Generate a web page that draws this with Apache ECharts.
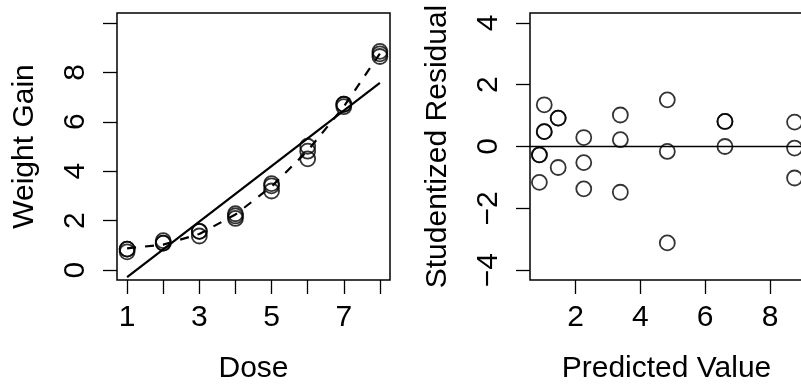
<!DOCTYPE html>
<html lang="en">
<head>
    <meta charset="UTF-8">
    <title>Weight gain vs dose</title>
    <style>
        html, body { margin: 0; padding: 0; background: #fff; }
        #main { width: 801px; height: 384px; }
    </style>
    <script src="https://cdn.jsdelivr.net/npm/echarts@6/dist/echarts.min.js"></script>
</head>
<body>
<div id="main"></div>
<script>
    // observed data: 3 animals per dose
    var dose = [1, 1, 1, 2, 2, 2, 3, 3, 3, 4, 4, 4, 5, 5, 5, 6, 6, 6, 7, 7, 7, 8, 8, 8];
    var gain = [0.85, 0.85, 0.74, 1.19, 1.09, 1.09, 1.57, 1.57, 1.38, 2.28, 2.19, 2.09,
                3.50, 3.41, 3.20, 5.01, 4.81, 4.50, 6.71, 6.71, 6.61, 8.85, 8.75, 8.64];
    // quadratic fit, one value per dose (1..8)
    var doseLevels = [1, 2, 3, 4, 5, 6, 7, 8];
    var fitted = [0.88, 1.03, 1.46, 2.25, 3.38, 4.83, 6.61, 8.76];
    // studentized residuals, same order as gain
    var stuRes = [-0.27, -0.27, -1.16, 1.35, 0.48, 0.48, 0.92, 0.92, -0.68, 0.29, -0.52, -1.37,
                  1.02, 0.22, -1.48, 1.51, -0.16, -3.12, 0.81, 0.81, 0.00, 0.79, -0.05, -1.02];

    // tick / label values
    var doseTicks = [1, 2, 3, 4, 5, 6, 7, 8];
    var doseLabels = [1, 3, 5, 7];
    var gainTicks = [0, 2, 4, 6, 8, 10];
    var gainLabels = [0, 2, 4, 6, 8];
    var predTicks = [2, 4, 6, 8];
    var resTicks = [-4, -2, 0, 2, 4];

    // straight-line fit of gain on dose (least squares)
    var n = dose.length, mx = 0, my = 0;
    for (var i = 0; i < n; i++) { mx += dose[i]; my += gain[i]; }
    mx /= n; my /= n;
    var sxy = 0, sxx = 0;
    for (var i = 0; i < n; i++) {
        sxy += (dose[i] - mx) * (gain[i] - my);
        sxx += (dose[i] - mx) * (dose[i] - mx);
    }
    var slope = sxy / sxx, icpt = my - slope * mx;
    var linFit = [[1, icpt + slope], [8, icpt + 8 * slope]];

    var leftPts = [], rightPts = [], quadLine = [];
    for (var i = 0; i < n; i++) {
        leftPts.push([dose[i], gain[i]]);
        rightPts.push([fitted[dose[i] - 1], stuRes[i]]);
    }
    for (var j = 0; j < doseLevels.length; j++) quadLine.push([doseLevels[j], fitted[j]]);

    var FONT = "'Liberation Sans', Arial, Helvetica, sans-serif";
    var FS = 30;
    var minus = function (v) { return v < 0 ? '\u2212' + Math.abs(v) : String(v); };

    function xAx(idx, min, max, ticks, labels, name) {
        return {
            type: 'value', gridIndex: idx, min: min, max: max,
            splitLine: {show: false},
            axisLine: {show: false, onZero: false},
            axisTick: {show: true, length: 14, customValues: ticks, lineStyle: {color: '#000', width: 1.3}},
            axisLabel: {customValues: labels, margin: 23, color: '#000', fontSize: FS, fontFamily: FONT},
            name: name, nameLocation: 'middle', nameGap: 74,
            nameTextStyle: {color: '#000', fontSize: FS, fontFamily: FONT}
        };
    }
    function yAx(idx, min, max, ticks, labels, name) {
        return {
            type: 'value', gridIndex: idx, min: min, max: max,
            splitLine: {show: false},
            axisLine: {show: false, onZero: false},
            axisTick: {show: true, length: 14, customValues: ticks, lineStyle: {color: '#000', width: 1.3}},
            axisLabel: {customValues: labels, rotate: 90, margin: 26, color: '#000', fontSize: FS,
                        fontFamily: FONT, formatter: minus},
            name: name, nameLocation: 'middle', nameGap: 77,
            nameTextStyle: {color: '#000', fontSize: FS, fontFamily: FONT}
        };
    }

    var circle = {color: 'rgba(0,0,0,0)', borderColor: '#000', borderWidth: 1.8};

    var chart = echarts.init(document.getElementById('main'));
    chart.setOption({
        animation: false,
        backgroundColor: '#fff',
        grid: [
            {left: 117, top: 13, width: 273, height: 267, show: true, borderColor: '#000', borderWidth: 1.5,
             outerBoundsMode: 'none'},
            {left: 530, top: 13, width: 273, height: 267, show: true, borderColor: '#000', borderWidth: 1.5,
             outerBoundsMode: 'none'}
        ],
        xAxis: [
            xAx(0, 0.72, 8.28, doseTicks, doseLabels, 'Dose'),
            xAx(1, 0.59, 9.02, predTicks, predTicks, 'Predicted Value')
        ],
        yAxis: [
            yAx(0, -0.4, 10.4, gainTicks, gainLabels, 'Weight Gain'),
            yAx(1, -4.32, 4.32, resTicks, resTicks, 'Studentized Residual')
        ],
        series: [
            {
                type: 'scatter', xAxisIndex: 0, yAxisIndex: 0, data: leftPts,
                symbol: 'circle', symbolSize: 15, itemStyle: circle, silent: true
            },
            {
                type: 'line', xAxisIndex: 0, yAxisIndex: 0, data: linFit, symbol: 'none',
                lineStyle: {color: '#000', width: 2.2}, silent: true
            },
            {
                type: 'line', xAxisIndex: 0, yAxisIndex: 0, data: quadLine, symbol: 'none',
                lineStyle: {color: '#000', width: 2.2, type: [9, 9]}, silent: true
            },
            {
                type: 'scatter', xAxisIndex: 1, yAxisIndex: 1, data: rightPts,
                symbol: 'circle', symbolSize: 15, itemStyle: circle, silent: true,
                markLine: {
                    silent: true, symbol: 'none', label: {show: false},
                    lineStyle: {color: '#000', width: 1.3, type: 'solid'},
                    data: [{yAxis: 0}]
                }
            }
        ]
    });
</script>
</body>
</html>
